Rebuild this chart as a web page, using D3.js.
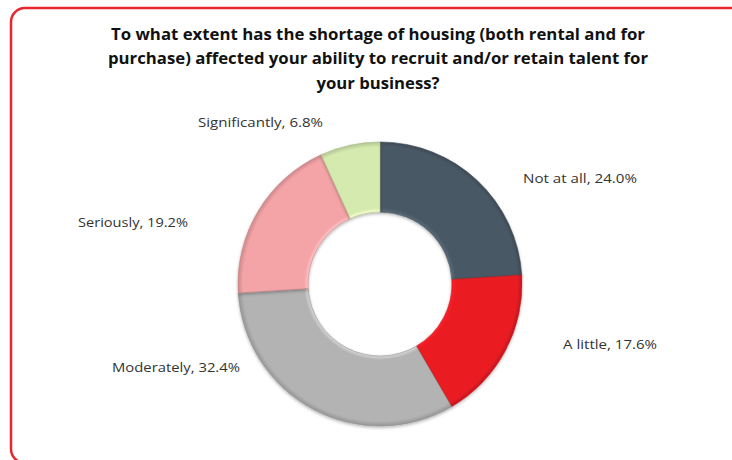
<!DOCTYPE html>
<html>
<head>
<meta charset="utf-8">
<script src="https://cdn.jsdelivr.net/npm/d3@7"></script>
<style>
  html, body { margin: 0; padding: 0; background: #fff; }
  svg { display: block; }
</style>
</head>
<body>
<svg id="chart" width="732" height="460"></svg>
<script>
// Survey responses, in clockwise order from 12 o'clock
const categories = ["Not at all", "A little", "Moderately", "Seriously", "Significantly"];
const shares = [24.0, 17.6, 32.4, 19.2, 6.8];
const sliceColors = ["#4a5965", "#ea1c24", "#b3b3b3", "#f4a3a6", "#d4eaae"];
const titleLines = [
  "To what extent has the shortage of housing (both rental and for",
  "purchase) affected your ability to recruit and/or retain talent for",
  "your business?"
];

const svg = d3.select("#chart");
const W = 732, H = 460;

// Frame
svg.append("rect")
  .attr("x", 11).attr("y", 8)
  .attr("width", W + 20).attr("height", H - 5)
  .attr("rx", 14).attr("ry", 14)
  .attr("fill", "#fff")
  .attr("stroke", "#e8262e")
  .attr("stroke-width", 2.5);

// Title, three centred lines
const titleWidths = [534, 540, 123];
svg.append("g").selectAll("text")
  .data(titleLines)
  .join("text")
  .attr("x", 378)
  .attr("y", (d, i) => 39.5 + i * 24.5)
  .attr("text-anchor", "middle")
  .attr("font-family", "'Open Sans', 'Noto Sans', sans-serif")
  .attr("font-weight", "bold")
  .attr("font-size", 15.5)
  .attr("fill", "#111")
  .attr("textLength", (d, i) => titleWidths[i])
  .attr("lengthAdjust", "spacingAndGlyphs")
  .text(d => d);

// Donut
const cx = 380, cy = 284, rOuter = 142, rInner = 72;
const data = categories.map((c, i) => ({ name: c, value: shares[i], color: sliceColors[i] }));
const pie = d3.pie().sort(null).value(d => d.value);
const arc = d3.arc().innerRadius(rInner).outerRadius(rOuter);
const arcs = pie(data);

const defs = svg.append("defs");
// bevel shading: a light lip on the inner rim, a darker outer rim
arcs.forEach((a, i) => {
  const g = defs.append("radialGradient")
    .attr("id", "bevel" + i)
    .attr("gradientUnits", "userSpaceOnUse")
    .attr("cx", 0).attr("cy", 0).attr("r", rOuter);
  const base = d3.color(a.data.color);
  const stops = [
    [rInner / rOuter, base.brighter(0.5)],
    [(rInner + 4) / rOuter, base],
    [(rOuter - 5) / rOuter, base],
    [1, base.darker(0.5)]
  ];
  stops.forEach(([o, c]) => g.append("stop").attr("offset", o).attr("stop-color", c.formatHex()));
});

const filt = defs.append("filter").attr("id", "shade")
  .attr("x", "-10%").attr("y", "-10%").attr("width", "120%").attr("height", "120%");
filt.append("feDropShadow").attr("dx", 0).attr("dy", 1.5).attr("stdDeviation", 1.5)
  .attr("flood-color", "#000").attr("flood-opacity", 0.3);

const ring = svg.append("g").attr("transform", `translate(${cx},${cy})`);
ring.selectAll("path")
  .data(arcs)
  .join("path")
  .attr("d", arc)
  .attr("fill", (d, i) => `url(#bevel${i})`)
  .attr("stroke", d => d3.color(d.data.color).darker(0.6).formatHex())
  .attr("stroke-width", 0.6)
  .attr("filter", "url(#shade)");

// Category labels
const labelPos = [
  { x: 523, y: 183, w: 114 },
  { x: 563, y: 349, w: 94 },
  { x: 112, y: 372, w: 128 },
  { x: 78, y: 227, w: 110 },
  { x: 198, y: 127, w: 125 }
];
svg.append("g").selectAll("text")
  .data(arcs)
  .join("text")
  .attr("x", (d, i) => labelPos[i].x)
  .attr("y", (d, i) => labelPos[i].y)
  .attr("font-family", "'Open Sans', 'Noto Sans', sans-serif")
  .attr("font-size", 13)
  .attr("fill", "#333")
  .attr("textLength", (d, i) => labelPos[i].w)
  .attr("lengthAdjust", "spacingAndGlyphs")
  .text(d => `${d.data.name}, ${d.data.value.toFixed(1)}%`);
</script>
</body>
</html>
